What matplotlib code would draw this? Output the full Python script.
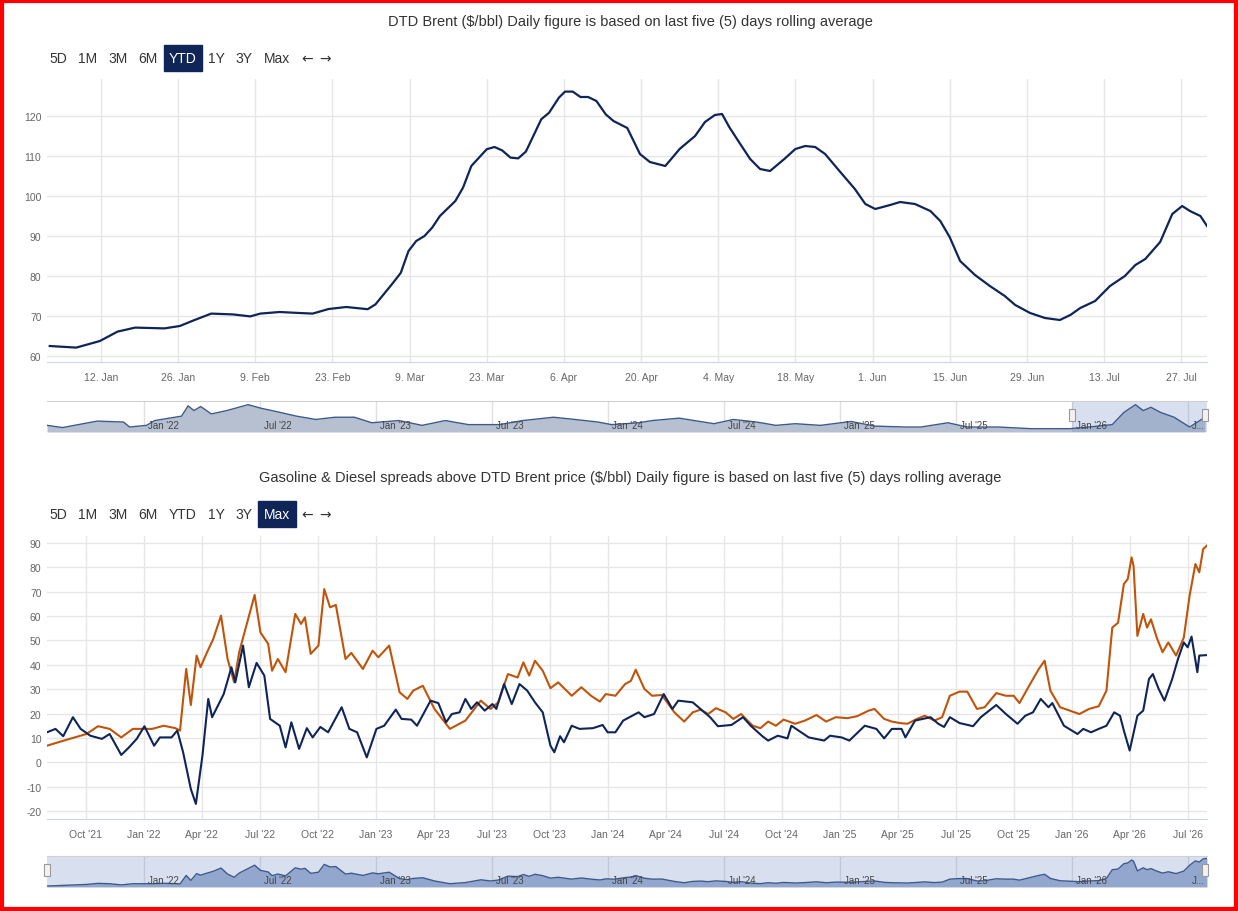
import matplotlib
matplotlib.use("Agg")
import matplotlib.pyplot as plt
from matplotlib.patches import Rectangle

plt.rcParams["axes.unicode_minus"] = False

W, H = 1238, 912
NAVY = "#0f2557"
ORANGE = "#c0540a"
GRID = "#e6e6e6"
LBL = "#666666"
FONT = ["Liberation Sans Narrow", "Liberation Sans", "DejaVu Sans"]

# ---- top chart: DTD Brent, YTD (x = day of year, 0 = 1 Jan) ----
brent_day = [1.7, 6.5, 10.8, 14.0, 17.2, 22.5, 25.3, 27.8, 31.0, 34.9, 38.1, 39.9, 43.4, 47.0,
             49.4, 52.3, 55.5, 59.4, 60.8, 64.0, 65.4, 66.8, 68.2, 69.7, 71.1, 72.5, 75.3, 76.7,
             78.2, 81.0, 82.4, 83.8, 85.3, 86.7, 88.1, 90.9, 92.3, 94.1, 95.2, 96.6, 98.0, 99.4,
             100.9, 102.6, 104.0, 106.5, 108.8, 110.6, 113.4, 116.0, 118.8, 120.6, 122.4, 123.7,
             125.0, 127.0, 128.8, 130.6, 132.4, 135.0, 137.0, 138.8, 140.6, 142.4, 145.0, 147.8,
             149.7, 151.5, 154.2, 156.0, 158.7, 161.5, 163.3, 165.0, 166.9, 169.6, 172.3, 175.0,
             176.9, 179.6, 182.3, 185.0, 186.9, 188.7, 191.4, 194.1, 196.8, 198.7, 200.5, 203.2,
             205.4, 207.2, 208.6, 210.5, 211.7]
brent_val = [62.5, 62.1, 63.75, 66.1, 67.1, 66.9, 67.5, 68.9, 70.6, 70.4, 69.9, 70.6, 71.0, 70.75,
             70.6, 71.75, 72.25, 71.7, 72.9, 78.3, 80.8, 86.25, 88.75, 90.0, 92.1, 95.0, 98.75, 102.1,
             107.5, 111.7, 112.25, 111.4, 109.6, 109.4, 111.1, 119.2, 120.8, 124.6, 126.1, 126.1, 124.75, 124.75,
             123.75, 120.4, 118.75, 117.0, 110.5, 108.5, 107.5, 111.75, 115.0, 118.5, 120.25, 120.5,
             117.25, 113.0, 109.25, 106.75, 106.25, 109.25, 111.75, 112.5, 112.25, 110.5, 106.25, 101.75,
             98.0, 96.75, 97.75, 98.5, 98.0, 96.25, 93.75, 89.75, 83.75, 80.25, 77.5, 75.0,
             72.75, 70.75, 69.5, 69.0, 70.25, 72.0, 73.75, 77.5, 80.0, 82.75, 84.25, 88.5,
             95.5, 97.5, 96.25, 95.0, 92.5]
top_tick_days = [11, 25, 39, 53, 67, 81, 95, 109, 123, 137, 151, 165, 179, 193, 207]
top_tick_lbls = ["12. Jan", "26. Jan", "9. Feb", "23. Feb", "9. Mar", "23. Mar", "6. Apr", "20. Apr",
                 "4. May", "18. May", "1. Jun", "15. Jun", "29. Jun", "13. Jul", "27. Jul"]

# ---- top navigator: Brent history (x = months since Oct 2021) ----
nav_m = [-2.0, -1.2, 0.6, 1.96, 2.27, 3.15, 3.57, 4.96, 5.3, 5.6, 5.95, 6.5, 7.3, 8.4, 9.1, 9.9,
         10.9, 11.9, 12.9, 13.9, 14.8, 16.2, 17.4, 18.6, 19.8, 21.4, 22.6, 24.2, 25.3, 26.5, 27.2,
         28.6, 29.3, 30.7, 32.5, 33.5, 34.7, 35.7, 36.7, 38.0, 39.6, 40.8, 42.4, 43.2, 44.6, 45.6,
         47.2, 48.9, 50.9, 51.9, 53.1, 53.7, 54.3, 54.7, 55.1, 55.6, 56.3, 57.1, 57.9]
nav_v = [70, 64, 81.5, 79, 65.5, 70, 83, 95, 123, 110, 121, 101, 110, 126, 116, 107,
         95, 86, 92, 92, 77, 83, 70, 83, 72, 72, 83, 92, 86, 79, 72,
         77, 83, 89.5, 74.5, 86, 79, 70, 74.5, 70, 80.5, 68, 65.5, 65.5, 77, 65.5,
         65.5, 61, 61, 65.5, 72, 105, 126, 110, 119, 105, 92, 65.5, 92]

# ---- bottom chart: spreads (x = months since Oct 2021) ----
gas_m = [-2.0, -1.56, -1.16, -0.66, -0.26, 0.24, 0.84, 1.24, 1.84, 2.24, 2.64, 3.04, 3.54, 3.84,
         4.44, 4.74, 5.04, 5.44, 5.7, 6.04, 6.34, 6.54, 6.84, 7.14, 7.54, 7.74, 8.14, 8.44, 8.84,
         9.24, 9.54, 10.04, 10.34, 10.64, 11.04, 11.44, 11.74, 12.14, 12.54, 13.24, 13.64, 14.04,
         14.54, 15.04, 15.44, 16.04, 16.34, 16.84, 17.14, 17.84, 18.24, 18.64, 18.94, 19.34, 19.64,
         19.94, 20.24, 20.64, 21.04, 21.24, 21.64, 22.04, 22.44, 22.84, 23.24, 23.64, 24.04, 24.24,
         24.54, 24.74, 25.14, 25.54, 26.24, 26.74, 27.0, 27.4, 27.8, 28.6, 28.9, 29.4, 29.9, 30.35,
         30.65, 31.4, 31.8, 32.3, 32.7, 33.4, 34.0, 34.4, 35.0, 35.3, 35.8, 36.3, 36.5, 37.4, 38.2,
         38.5, 39.1, 39.5, 40.3, 40.9, 41.3, 41.7, 42.2, 42.4, 42.9, 43.7, 44.1, 44.4, 44.7, 45.2,
         45.9, 46.3, 47.1, 47.6, 48.2, 48.6, 49.0, 49.4, 49.8, 50.0, 50.6, 51.3, 51.6, 52.0, 52.4,
         52.8, 53.2, 53.5, 53.7, 54.0, 54.4, 54.7, 55.0, 55.2, 55.5, 55.8, 56.2, 56.5, 56.8, 57.0,
         57.2, 57.5, 57.6, 58.0]
gas_v = [12.3, 13.7, 10.7, 18.5, 13.7, 10.9, 9.6, 11.6, 3.0, 6.1, 9.6, 14.8, 6.8, 10.2,
         10.2, 13.0, 4.1, -11.0, -17.1, 2.7, 26.0, 18.5, 23.2, 28.0, 39.0, 32.8, 47.9, 30.8, 40.8,
         35.6, 17.8, 15.0, 6.1, 16.4, 5.5, 14.0, 10.2, 14.5, 12.3, 22.6, 13.7, 12.3,
         2.0, 13.7, 15.0, 21.6, 17.8, 17.5, 15.0, 25.3, 24.3, 16.4, 19.8, 20.5, 26.0,
         21.9, 24.6, 21.2, 23.9, 21.9, 32.1, 23.9, 32.1, 29.4, 24.6, 20.5, 6.8, 4.1,
         10.7, 8.2, 15.0, 13.7, 14.0, 15.3, 12.3, 12.3, 17.1, 20.5, 18.5, 19.8, 28.0, 21.9,
         25.3, 24.6, 21.9, 18.5, 14.8, 15.3, 18.5, 15.0, 10.7, 8.9, 10.9, 9.8, 15.0, 10.2, 8.9,
         10.9, 10.2, 8.9, 15.0, 13.7, 9.8, 13.7, 13.7, 10.2, 17.1, 18.5, 15.8, 14.5, 18.5, 16.1,
         14.8, 18.5, 23.5, 19.8, 15.8, 19.1, 20.5, 26.0, 22.6, 24.3, 15.0, 11.6, 13.7, 12.3, 13.7,
         15.0, 20.5, 19.1, 13.0, 4.8, 19.1, 21.2, 34.2, 36.2, 30.1, 25.3, 34.2, 42.4, 49.2, 47.2,
         51.6, 37.0, 43.8, 44.0]
dsl_m = [-2.0, -0.96, 0.04, 0.64, 1.24, 1.84, 2.44, 3.44, 4.04, 4.64, 4.88, 5.2, 5.44, 5.74,
         5.94, 6.24, 6.6, 7.0, 7.34, 7.68, 7.94, 8.24, 8.74, 9.04, 9.44, 9.64, 9.94, 10.34, 10.84,
         11.14, 11.34, 11.64, 12.04, 12.34, 12.64, 12.94, 13.44, 13.74, 14.34, 14.84, 15.14, 15.7,
         16.24, 16.64, 16.94, 17.44, 18.04, 18.84, 19.64, 20.44, 20.94, 21.34, 21.84, 22.34, 22.64,
         22.94, 23.24, 23.64, 24.04, 24.44, 25.14, 25.64, 26.14, 26.6, 26.9, 27.4, 27.9, 28.2,
         28.45, 28.9, 29.3, 29.8, 30.45, 30.96, 31.4, 31.8, 32.2, 32.6, 33.1, 33.5, 33.9, 34.5,
         34.9, 35.3, 35.7, 36.1, 36.7, 37.2, 37.8, 38.3, 38.8, 39.4, 39.9, 40.5, 40.8, 41.3, 41.7,
         42.1, 42.5, 43.0, 43.4, 43.9, 44.3, 44.7, 45.2, 45.6, 46.1, 46.5, 47.1, 47.6, 48.0, 48.3,
         48.8, 49.3, 49.6, 49.9, 50.4, 51.4, 51.9, 52.4, 52.8, 53.1, 53.4, 53.7, 53.9, 54.1, 54.2,
         54.4, 54.7, 54.9, 55.1, 55.4, 55.7, 56.0, 56.4, 56.8, 57.1, 57.4, 57.6, 57.8, 58.0]
dsl_v = [6.8, 9.3, 11.6, 14.8, 13.7, 10.2, 13.7, 13.7, 15.0, 14.0, 13.0, 38.3, 23.5, 43.8,
         39.0, 44.5, 50.6, 60.2, 42.4, 32.8, 45.2, 54.0, 68.7, 53.3, 48.6, 37.6, 42.4, 37.0, 60.9,
         56.8, 59.5, 44.5, 47.9, 71.1, 63.6, 64.6, 42.4, 44.9, 38.3, 45.8, 43.1, 47.9,
         28.7, 26.0, 29.4, 31.4, 21.9, 13.7, 17.1, 25.3, 21.9, 24.6, 36.2, 34.8, 41.0,
         35.6, 41.7, 37.6, 30.4, 32.8, 27.3, 30.8, 27.3, 24.9, 28.0, 27.3, 32.1, 33.4,
         38.0, 30.1, 27.3, 27.6, 20.5, 16.7, 20.5, 21.6, 19.8, 22.2, 20.5, 17.8, 19.8, 15.0,
         14.0, 16.7, 15.0, 17.5, 15.8, 17.1, 19.4, 16.7, 18.5, 18.1, 18.9, 21.2, 21.9, 17.8, 16.7,
         16.1, 15.8, 17.8, 19.1, 17.1, 18.5, 27.3, 29.0, 29.0, 21.9, 22.6, 28.4, 27.3, 27.3, 24.3,
         31.4, 38.3, 41.7, 29.4, 22.6, 19.8, 21.9, 23.0, 29.4, 55.3, 57.3, 73.2, 75.2, 84.1, 80.7,
         51.9, 60.9, 55.3, 58.7, 51.2, 45.2, 49.2, 43.8, 51.2, 68.4, 81.4, 78.0, 87.5, 89.0]

bot_tick_m = list(range(0, 58, 3))
bot_tick_lbls = ["Oct '21", "Jan '22", "Apr '22", "Jul '22", "Oct '22", "Jan '23", "Apr '23", "Jul '23",
                 "Oct '23", "Jan '24", "Apr '24", "Jul '24", "Oct '24", "Jan '25", "Apr '25", "Jul '25",
                 "Oct '25", "Jan '26", "Apr '26", "Jul '26"]
nav_tick_m = list(range(3, 58, 6))
nav_tick_lbls = ["Jan '22", "Jul '22", "Jan '23", "Jul '23", "Jan '24", "Jul '24",
                 "Jan '25", "Jul '25", "Jan '26", "J..."]

buttons = ["5D", "1M", "3M", "6M", "YTD", "1Y", "3Y", "Max"]
button_x = [58, 88, 118, 148, 183, 216, 244, 277]

fig = plt.figure(figsize=(W / 100, H / 100), dpi=100)
fig.patch.set_facecolor("white")


def px_axes(x0, y0, x1, y1):
    return fig.add_axes([x0 / W, 1 - y1 / H, (x1 - x0) / W, (y1 - y0) / H])


def ftext(x, y, s, **kw):
    kw.setdefault("family", FONT)
    fig.text(x / W, 1 - y / H, s, **kw)


def style_main(ax):
    for s in ax.spines.values():
        s.set_visible(False)
    ax.spines["bottom"].set_visible(True)
    ax.spines["bottom"].set_color("#ccd6eb")
    ax.grid(True, color=GRID, lw=1)
    ax.set_axisbelow(True)
    ax.tick_params(length=0, labelsize=7.5, labelcolor=LBL, pad=4)
    for t in ax.get_xticklabels() + ax.get_yticklabels():
        t.set_family(FONT)
    ax.tick_params(axis="x", pad=7)


def buttons_row(y, active):
    for b, x in zip(buttons, button_x):
        if b == active:
            w = 38
            fig.patches.append(Rectangle(((x - w / 2) / W, 1 - (y + 13) / H), w / W, 26 / H,
                                         transform=fig.transFigure, color=NAVY))
            ftext(x, y, b, ha="center", va="center", fontsize=10, color="white")
        else:
            ftext(x, y, b, ha="center", va="center", fontsize=10, color="#333333")
    ftext(307, y, "\u2190", ha="center", va="center", fontsize=10, color="#333333", family="DejaVu Sans")
    ftext(325, y, "\u2192", ha="center", va="center", fontsize=10, color="#333333", family="DejaVu Sans")


def navigator(ax, xs, ys, ylim, sel=None):
    ax.set_xlim(-2, 58)
    ax.set_ylim(*ylim)
    ax.fill_between(xs, ylim[0], ys, color="#b7c0d0" if sel else "#a3b2d2", lw=0)
    ax.plot(xs, ys, color="#3d5a8a", lw=1)
    for m in nav_tick_m:
        ax.axvline(m, color="#e0e0e0", lw=1, zorder=0)
    ax.set_xticks([])
    ax.set_yticks([])
    for s in ax.spines.values():
        s.set_visible(False)
    ax.spines["top"].set_visible(True)
    ax.spines["top"].set_color("#d0d0d0")
    for m, l in zip(nav_tick_m, nav_tick_lbls):
        ax.text(m + 0.2, ylim[0] + (ylim[1] - ylim[0]) * 0.08, l, fontsize=7, color="#444444",
                family=FONT, va="bottom")
    x0 = sel[0] if sel else -2
    ax.axvspan(x0, 58, color="#6685c2", alpha=0.25, lw=0)
    for hx in (x0, 57.9):
        ax.add_patch(Rectangle((hx - 0.15, ylim[0] + (ylim[1] - ylim[0]) * 0.35), 0.3,
                               (ylim[1] - ylim[0]) * 0.4, facecolor="#f2f2f2", edgecolor="#999999",
                               lw=0.8, zorder=5, clip_on=False))


# ---- top chart ----
ftext(630, 22, "DTD Brent ($/bbl) Daily figure is based on last five (5) days rolling average",
      ha="center", va="center", fontsize=10.5, color="#333333")
buttons_row(59, "YTD")
ax1 = px_axes(47, 80, 1207, 363)
ax1.plot(brent_day, brent_val, color=NAVY, lw=1.6)
ax1.set_xlim(1.2, 211.7)
ax1.set_ylim(58.5, 129.25)
ax1.set_yticks(range(60, 121, 10))
ax1.set_xticks(top_tick_days)
ax1.set_xticklabels(top_tick_lbls)
style_main(ax1)

nav1 = px_axes(47, 402, 1207, 433)
navigator(nav1, nav_m, nav_v, (52, 136), sel=(51.0,))

# ---- bottom chart ----
ftext(630, 478, "Gasoline & Diesel spreads above DTD Brent price ($/bbl) Daily figure is based on last five (5) days rolling average",
      ha="center", va="center", fontsize=10.5, color="#333333")
buttons_row(515, "Max")
ax2 = px_axes(47, 537, 1207, 820)
ax2.plot(dsl_m, dsl_v, color=ORANGE, lw=1.5)
ax2.plot(gas_m, gas_v, color=NAVY, lw=1.5)
ax2.set_xlim(-2, 58)
ax2.set_ylim(-23.3, 92.9)
ax2.set_yticks(range(-20, 91, 10))
ax2.set_xticks(bot_tick_m)
ax2.set_xticklabels(bot_tick_lbls)
style_main(ax2)

nav2 = px_axes(47, 857, 1207, 888)
navigator(nav2, dsl_m, dsl_v, (4, 96))

# red frame
fig.patches.append(Rectangle((0.0015, 0.002), 0.997, 0.996, transform=fig.transFigure,
                             fill=False, edgecolor="#ff0000", lw=3))

fig.savefig("out.png", dpi=100)
